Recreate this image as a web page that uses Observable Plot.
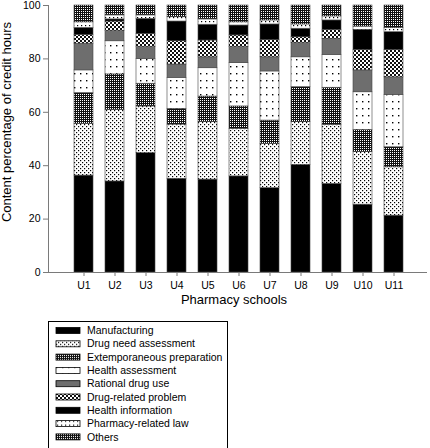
<!DOCTYPE html>
<html>
<head>
<meta charset="utf-8">
<script src="https://cdn.jsdelivr.net/npm/d3@7"></script>
<script src="https://cdn.jsdelivr.net/npm/@observablehq/plot@0.6"></script>
<style>
  body { margin: 0; background: #fff; font-family: "Liberation Sans", Arial, sans-serif; }
  #chart { position: absolute; left: 0; top: 0; }
  #legend { position: absolute; left: 48px; top: 321px; }
  #chart svg { display: block; }
</style>
</head>
<body>
<svg id="defs" width="0" height="0" style="position:absolute">
  <defs>
    <pattern id="p-man" patternUnits="userSpaceOnUse" width="4" height="4"><rect width="4" height="4" fill="#000"/></pattern>
    <pattern id="p-dna" patternUnits="userSpaceOnUse" width="4" height="4"><rect width="4" height="4" fill="#fff"/><rect x="0" y="0" width="1.2" height="1.2" fill="#000"/><rect x="2" y="2" width="1.2" height="1.2" fill="#000"/></pattern>
    <pattern id="p-ext" patternUnits="userSpaceOnUse" width="2" height="2"><rect width="2" height="2" fill="#111"/><rect x="0" y="0" width="1" height="1" fill="#fff"/></pattern>
    <pattern id="p-ha" patternUnits="userSpaceOnUse" width="6" height="7"><rect width="6" height="7" fill="#fff"/><rect x="2" y="3" width="1.4" height="1.4" fill="#000"/></pattern>
    <pattern id="p-rdu" patternUnits="userSpaceOnUse" width="4" height="4"><rect width="4" height="4" fill="#6e6e6e"/></pattern>
    <pattern id="p-drp" patternUnits="userSpaceOnUse" width="4" height="4"><rect width="4" height="4" fill="#fff"/><rect x="0" y="0" width="2" height="2" fill="#111"/><rect x="2" y="2" width="2" height="2" fill="#111"/></pattern>
    <pattern id="p-hi" patternUnits="userSpaceOnUse" width="4" height="4"><rect width="4" height="4" fill="#000"/></pattern>
    <pattern id="p-law" patternUnits="userSpaceOnUse" width="4" height="4"><rect width="4" height="4" fill="#fff"/><rect x="1" y="1" width="1.2" height="1.2" fill="#000"/></pattern>
    <pattern id="p-oth" patternUnits="userSpaceOnUse" width="2" height="2"><rect width="2" height="2" fill="#111"/><rect x="1" y="1" width="1" height="1" fill="#fff"/></pattern>
  </defs>
</svg>
<div id="chart"></div>
<div id="legend"></div>
<script>
const schools = ["U1","U2","U3","U4","U5","U6","U7","U8","U9","U10","U11"];
const categories = [
  "Manufacturing",
  "Drug need assessment",
  "Extemporaneous preparation",
  "Health assessment",
  "Rational drug use",
  "Drug-related problem",
  "Health information",
  "Pharmacy-related law",
  "Others"
];
const patternIds = ["p-man","p-dna","p-ext","p-ha","p-rdu","p-drp","p-hi","p-law","p-oth"];
const yTicks = [0, 20, 40, 60, 80, 100];
const xTitle = "Pharmacy schools";
const yTitle = "Content percentage of credit hours";

// values (%) per category, in school order U1..U11
const manufacturing      = [36.3, 34.1, 44.7, 35.1, 34.8, 36.0, 31.6, 40.3, 33.2, 25.4, 21.3];
const drugNeed           = [19.4, 26.8, 17.5, 20.3, 21.5, 17.8, 16.6, 16.0, 22.1, 19.7, 18.1];
const extemporaneous     = [11.5, 13.3,  8.5,  5.9,  9.6,  8.4,  8.7, 13.1, 13.9,  8.3,  7.5];
const healthAssessment   = [ 8.5, 12.4,  9.3, 11.6, 10.6, 16.2, 18.4, 11.2, 12.3, 14.1, 19.6];
const rationalDrugUse    = [10.0,  3.8,  4.4,  5.0,  4.1,  6.0,  5.3,  5.3,  6.0,  8.2,  6.6];
const drugRelatedProblem = [ 3.3,  3.6,  5.0,  8.7,  6.3,  4.4,  6.5,  2.2,  3.4,  7.7, 10.3];
const healthInformation  = [ 2.6,  0.8,  5.6,  7.4,  5.9,  3.7,  5.8,  3.2,  3.5,  7.5,  6.6];
const pharmacyLaw        = [ 2.1,  1.5,  1.3,  1.6,  2.0,  1.2,  1.5,  1.6,  1.5,  1.2,  1.6];
const others             = [ 6.3,  3.7,  3.7,  4.4,  5.2,  6.3,  5.6,  7.1,  4.1,  7.9,  8.4];

const series = [manufacturing, drugNeed, extemporaneous, healthAssessment, rationalDrugUse,
                drugRelatedProblem, healthInformation, pharmacyLaw, others];

const table = [];
schools.forEach((s, i) => {
  categories.forEach((c, j) => table.push({school: s, category: c, value: series[j][i]}));
});

const font = "'Liberation Sans', Arial, sans-serif";

const chart = Plot.plot({
  width: 430,
  height: 310,
  marginTop: 5,
  marginBottom: 38,
  marginLeft: 48,
  marginRight: 3,
  style: {fontFamily: font, fontSize: "10.5px", color: "#000", background: "#fff"},
  x: {domain: schools, range: [63.6, 414], paddingInner: 0.39, paddingOuter: 0.195, label: null},
  y: {domain: [0, 100], label: null},
  color: {type: "ordinal", domain: categories, range: patternIds.map(id => `url(#${id})`)},
  marks: [
    Plot.barY(table, Plot.stackY({x: "school", y: "value", fill: "category", order: null,
      stroke: "#444", strokeWidth: 0.6})),
    Plot.ruleY([0], {stroke: "#7a7a7a", strokeWidth: 1}),
    Plot.frame({anchor: "left", stroke: "#7a7a7a", strokeWidth: 1}),
    Plot.axisY({ticks: yTicks, tickSize: 5, tickPadding: 3, stroke: "#7a7a7a", label: null}),
    Plot.axisX({tickSize: 4, tickPadding: 5, stroke: "#7a7a7a", label: null}),
    Plot.text([yTitle], {frameAnchor: "left", dx: -41.5, dy: -17, rotate: -90,
      textAnchor: "middle", fontSize: 13, fill: "#000"}),
    Plot.text([xTitle], {frameAnchor: "bottom", dy: 31, dx: -4, textAnchor: "middle",
      fontSize: 13, fill: "#000"})
  ]
});
document.getElementById("chart").appendChild(chart);

// legend
const lw = 180, lh = 130;
const leg = d3.select("#legend").append("svg")
  .attr("width", lw).attr("height", lh)
  .style("display", "block").style("overflow", "visible");
leg.append("rect").attr("x", 0.5).attr("y", 0.5).attr("width", lw - 1).attr("height", lh)
  .attr("fill", "#fff").attr("stroke", "#000").attr("stroke-width", 1);
const rows = leg.selectAll("g").data(categories).join("g")
  .attr("transform", (d, i) => `translate(0,${9.5 + 13.3 * i})`);
rows.append("rect").attr("x", 8).attr("y", -3).attr("width", 24).attr("height", 6)
  .attr("fill", (d, i) => `url(#${patternIds[i]})`).attr("stroke", "#000").attr("stroke-width", 0.8);
rows.append("text").attr("x", 39).attr("y", 0).attr("dy", "0.35em")
  .style("font-family", font).style("font-size", "10.5px").text(d => d);
</script>
</body>
</html>
